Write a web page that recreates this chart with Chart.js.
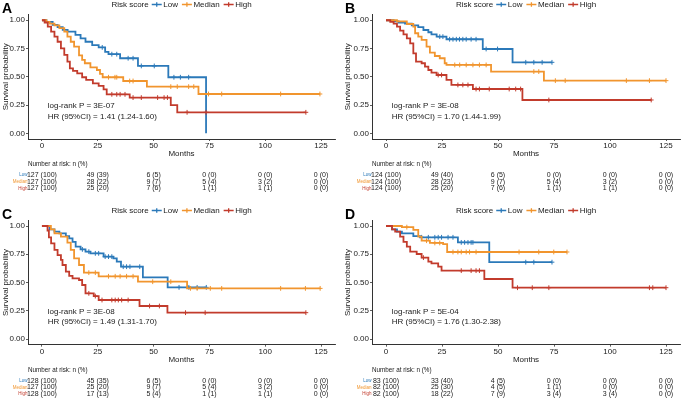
<!DOCTYPE html>
<html><head><meta charset="utf-8">
<script src="https://cdn.jsdelivr.net/npm/chart.js@4.4.1/dist/chart.umd.min.js"></script>
<style>
html,body{margin:0;padding:0;background:#fff;}
#wrap{position:relative;width:685px;height:403px;overflow:hidden;background:#fff;}
canvas{position:absolute;display:block;}
</style></head><body>
<div id="wrap">
<canvas id="cA" width="340" height="200" style="left:0;top:0"></canvas>
<canvas id="cB" width="345" height="200" style="left:340px;top:0"></canvas>
<canvas id="cC" width="340" height="197" style="left:0;top:206px"></canvas>
<canvas id="cD" width="345" height="197" style="left:340px;top:206px"></canvas>
</div>
<script>
// ---------- shared labels ----------
const groupNames = ['Low', 'Median', 'High'];
const legendTitle = 'Risk score';
const xTitle = 'Months';
const yTitle = 'Survival probability';
const tableTitle = 'Number at risk: n (%)';
const xTicks = [0, 25, 50, 75, 100, 125];
const yTicks = [0, 0.25, 0.5, 0.75, 1];

// ---------- Panel A ----------
const A_low_time  = [2, 4.8, 7, 9.3, 11.5, 15, 17.3, 19.5, 22.5, 25.4, 28.3, 29.8, 35, 43, 56.6, 73.5];
const A_low_surv  = [0.985, 0.96, 0.94, 0.915, 0.90, 0.87, 0.84, 0.81, 0.78, 0.76, 0.72, 0.70, 0.664, 0.596, 0.496, 0];
const A_low_cens  = [27, 31.3, 33.5, 38.6, 40.8, 44.5, 50.3, 59.1, 62, 65.7];
const A_med_time  = [2, 3.4, 5.6, 7.8, 10, 11.4, 12.9, 14.4, 16.6, 18, 19.2, 21.7, 24.6, 26, 27.2, 36.4, 47, 70.1];
const A_med_surv  = [0.985, 0.97, 0.955, 0.93, 0.90, 0.855, 0.81, 0.767, 0.69, 0.65, 0.62, 0.584, 0.56, 0.525, 0.496, 0.463, 0.413, 0.348];
const A_med_cens  = [29.8, 32.7, 33.5, 39.3, 40.8, 57.7, 60.6, 65.7, 68, 74.6, 80.5, 106.9, 124.5];
const A_high_time = [1.2, 2.6, 4.1, 5.6, 7, 8.5, 10, 11.4, 12.5, 13.9, 15.8, 18, 19.8, 22.8, 25.4, 27.6, 29, 39.3, 57.7, 60.6];
const A_high_surv = [0.98, 0.944, 0.90, 0.855, 0.81, 0.752, 0.693, 0.634, 0.575, 0.552, 0.53, 0.496, 0.472, 0.442, 0.419, 0.389, 0.345, 0.316, 0.25, 0.186];
const A_high_cens = [31.3, 33.5, 35, 37.2, 40.8, 44.5, 51.8, 54.7, 56.2, 65, 73.5, 118.2];
const A_risk_low  = [127, 49, 6, 0, 0, 0];  const A_pct_low  = [100, 39, 5, 0, 0, 0];
const A_risk_med  = [127, 28, 9, 5, 3, 0];  const A_pct_med  = [100, 22, 7, 4, 2, 0];
const A_risk_high = [127, 25, 7, 1, 1, 0];  const A_pct_high = [100, 20, 6, 1, 1, 0];
const A_pval = 'log-rank P = 3E-07';
const A_hr   = 'HR (95%CI) = 1.41 (1.24-1.60)';

// ---------- Panel B ----------
const B_low_time  = [3.4, 5.6, 8.5, 11.5, 14.4, 16.7, 18.9, 20.3, 22.6, 27, 43.2, 56.5];
const B_low_surv  = [0.99, 0.98, 0.97, 0.955, 0.94, 0.914, 0.894, 0.876, 0.855, 0.832, 0.746, 0.628];
const B_low_cens  = [24, 25.4, 28.4, 29.9, 31.4, 32.8, 34.3, 35.8, 38, 40.2, 44.7, 49.8, 62.4, 66, 69.7, 74.1];
const B_med_time  = [4.9, 9.3, 12.2, 13, 14.4, 15.9, 18.1, 19.6, 21.8, 24, 26.2, 27, 46.9, 70.5];
const B_med_surv  = [0.99, 0.967, 0.944, 0.885, 0.855, 0.826, 0.767, 0.714, 0.684, 0.664, 0.62, 0.605, 0.546, 0.466];
const B_med_cens  = [30.7, 32.9, 35.8, 38.8, 41.7, 44.7, 66, 68.2, 75.6, 80, 107.3, 117.6, 125];
const B_high_time = [1.9, 3.4, 4.9, 6.3, 7.8, 9.3, 10.8, 12.2, 13.4, 15.9, 17.4, 18.9, 20.3, 22.6, 27, 29.2, 38.8, 60.9];
const B_high_surv = [0.985, 0.97, 0.944, 0.908, 0.876, 0.84, 0.796, 0.708, 0.634, 0.62, 0.59, 0.56, 0.537, 0.516, 0.472, 0.428, 0.392, 0.295];
const B_high_cens = [23.3, 24.8, 32.1, 34.3, 36.6, 40.2, 41.7, 46.1, 55, 57.9, 60.1, 72.7, 118.4];
const B_risk_low  = [124, 49, 6, 0, 0, 0];  const B_pct_low  = [100, 40, 5, 0, 0, 0];
const B_risk_med  = [124, 28, 9, 5, 3, 0];  const B_pct_med  = [100, 23, 7, 4, 2, 0];
const B_risk_high = [124, 25, 7, 1, 1, 0];  const B_pct_high = [100, 20, 6, 1, 1, 0];
const B_pval = 'log-rank P = 3E-08';
const B_hr   = 'HR (95%CI) = 1.70 (1.44-1.99)';

// ---------- Panel C ----------
const C_low_time  = [3.4, 5.6, 7.8, 10.7, 12.2, 13.7, 15.1, 17.3, 19.5, 21.7, 27.6, 32, 33.5, 35.4, 45.2, 56.3];
const C_low_surv  = [0.97, 0.95, 0.935, 0.91, 0.89, 0.86, 0.817, 0.793, 0.773, 0.758, 0.729, 0.714, 0.684, 0.64, 0.546, 0.457];
const C_low_cens  = [18.1, 21, 23.9, 25.4, 28.3, 29.8, 31.3, 36.4, 37.9, 39.4, 43.8, 61.4, 65.8, 69.5, 73.6];
const C_med_time  = [4, 5.6, 8.5, 11.4, 12.9, 14.4, 16.6, 18.8, 25.4, 43, 65];
const C_med_surv  = [0.97, 0.935, 0.906, 0.852, 0.788, 0.714, 0.655, 0.587, 0.555, 0.507, 0.448];
const C_med_cens  = [21, 23.9, 29.8, 32.8, 35, 37.9, 40.8, 49.6, 57.7, 66.5, 69.5, 75.4, 80.5, 106.9, 118, 124.6];
const C_high_time = [2.5, 3.1, 4.1, 5.6, 7, 8.5, 9.2, 10.7, 12.2, 13.7, 16.6, 18, 19.5, 23.2, 25.4, 43.7, 56.2];
const C_high_surv = [0.96, 0.9, 0.846, 0.788, 0.743, 0.70, 0.655, 0.596, 0.558, 0.537, 0.522, 0.478, 0.404, 0.38, 0.345, 0.292, 0.233];
const C_high_cens = [21, 23.9, 26.9, 31.3, 32.8, 34.2, 35.7, 38.6, 48.2, 52.6, 64.3, 73.1, 118.2];
const C_risk_low  = [128, 45, 6, 0, 0, 0];  const C_pct_low  = [100, 35, 5, 0, 0, 0];
const C_risk_med  = [127, 25, 9, 5, 3, 0];  const C_pct_med  = [100, 20, 7, 4, 2, 0];
const C_risk_high = [128, 17, 5, 1, 1, 0];  const C_pct_high = [100, 13, 4, 1, 1, 0];
const C_pval = 'log-rank P = 3E-08';
const C_hr   = 'HR (95%CI) = 1.49 (1.31-1.70)';

// ---------- Panel D ----------
const D_low_time  = [2.7, 4.9, 7.1, 12.2, 15.2, 32.1, 46.1];
const D_low_surv  = [0.97, 0.95, 0.935, 0.91, 0.9, 0.855, 0.68];
const D_low_cens  = [15.9, 18.9, 21.8, 23.3, 24.8, 27.7, 29.9, 33.6, 35.1, 36.6, 38, 38.8, 62.4, 66, 74.1];
const D_med_time  = [7.1, 12.2, 14.4, 15.9, 19.6, 25.5, 27.3];
const D_med_surv  = [0.99, 0.965, 0.906, 0.87, 0.85, 0.84, 0.77];
const D_med_cens  = [9.3, 18.1, 21.8, 24, 29.9, 32.1, 33.6, 35.8, 37.3, 40.2, 59.4, 68.2, 74.9, 80.8];
const D_high_time = [2.7, 4.1, 6.3, 7.8, 9.3, 10.8, 13.7, 15.9, 18.9, 20.3, 23.3, 24.8, 43.9, 56.5];
const D_high_surv = [0.97, 0.95, 0.906, 0.86, 0.817, 0.773, 0.752, 0.72, 0.684, 0.67, 0.64, 0.605, 0.531, 0.454];
const D_high_cens = [16.7, 33.6, 38, 40.2, 41.7, 58.7, 65.3, 72.7, 117.6, 119.1, 125];
const D_risk_low  = [83, 33, 4, 0, 0, 0];   const D_pct_low  = [100, 40, 5, 0, 0, 0];
const D_risk_med  = [82, 25, 4, 1, 0, 0];   const D_pct_med  = [100, 30, 5, 1, 0, 0];
const D_risk_high = [82, 18, 7, 3, 3, 0];   const D_pct_high = [100, 22, 9, 4, 4, 0];
const D_pval = 'log-rank P = 5E-04';
const D_hr   = 'HR (95%CI) = 1.76 (1.30-2.38)';

// ---------- styling ----------
const FONT = "'Liberation Sans', Arial, Helvetica, sans-serif";
const COLORS = ['#2b79b9', '#f1952e', '#c23b2c'];
const TXT = '#1a1a1a';
const AXIS = '#333333';

function survAt(times, survs, t) {
  let s = 1;
  for (let i = 0; i < times.length; i++) { if (times[i] <= t) s = survs[i]; }
  return s;
}
function buildLine(times, survs, cens) {
  const pts = [{x: 0, y: 1}];
  for (let i = 0; i < times.length; i++) pts.push({x: times[i], y: survs[i]});
  const lastT = times[times.length - 1];
  const maxC = cens.length ? Math.max(...cens) : lastT;
  if (maxC > lastT) pts.push({x: maxC, y: survs[survs.length - 1]});
  return pts;
}
function buildCens(times, survs, cens) {
  return cens.map(t => ({x: t, y: survAt(times, survs, t)}));
}

const decoPlugin = {
  id: 'deco',
  afterDraw(chart, args, opts) {
    const p = opts.panel; if (!p) return;
    const ctx = chart.ctx, ca = chart.chartArea, xs = chart.scales.x, ys = chart.scales.y;
    ctx.save();
    // panel letter
    ctx.fillStyle = '#000'; ctx.font = 'bold 14px ' + FONT;
    ctx.textAlign = 'left'; ctx.textBaseline = 'alphabetic';
    ctx.fillText(p.letter, p.letterX, 12.6);
    // legend
    ctx.font = '8px ' + FONT; ctx.textBaseline = 'middle';
    const symW = 10, gapSym = 1.5, gapItem = 4, gapTitle = 3;
    let total = ctx.measureText(legendTitle).width + gapTitle;
    groupNames.forEach(g => { total += symW + gapSym + ctx.measureText(g).width + gapItem; });
    total -= gapItem;
    let x = (ca.left + ca.right) / 2 - total / 2; const ly = 4.5;
    ctx.fillStyle = TXT; ctx.fillText(legendTitle, x, ly);
    x += ctx.measureText(legendTitle).width + gapTitle;
    groupNames.forEach((g, i) => {
      ctx.strokeStyle = COLORS[i]; ctx.lineWidth = 1.3;
      ctx.beginPath();
      ctx.moveTo(x, ly); ctx.lineTo(x + symW, ly);
      ctx.moveTo(x + symW / 2, ly - 2.3); ctx.lineTo(x + symW / 2, ly + 2.3);
      ctx.stroke();
      x += symW + gapSym;
      ctx.fillStyle = TXT; ctx.fillText(g, x, ly);
      x += ctx.measureText(g).width + gapItem;
    });
    // annotations
    ctx.textAlign = 'left'; ctx.fillStyle = TXT; ctx.font = '8px ' + FONT;
    ctx.fillText(p.pval, xs.getPixelForValue(2.6), ys.getPixelForValue(0.245));
    ctx.fillText(p.hr, xs.getPixelForValue(2.6), ys.getPixelForValue(0.148));
    // x title
    ctx.textAlign = 'center';
    ctx.fillText(xTitle, (ca.left + ca.right) / 2, ca.bottom + 15);
    // risk table
    ctx.textAlign = 'left'; ctx.font = '6.3px ' + FONT;
    ctx.fillText(tableTitle, ca.left, ca.bottom + 25.5);
    p.rows.forEach((row, r) => {
      const yy = ca.bottom + 36 + r * 6.7;
      ctx.font = '4.5px ' + FONT; ctx.textAlign = 'right'; ctx.fillStyle = COLORS[r];
      ctx.fillText(groupNames[r], ca.left - 0.5, yy);
      ctx.font = '7px ' + FONT; ctx.textAlign = 'center'; ctx.fillStyle = TXT;
      row.n.forEach((n, k) => {
        ctx.fillText(n + ' (' + row.pct[k] + ')', xs.getPixelForValue(xTicks[k]), yy);
      });
    });
    ctx.restore();
  }
};

function makePanel(id, panel, lay) {
  const datasets = [];
  panel.curves.forEach((c, i) => {
    datasets.push({
      data: buildLine(c.time, c.surv, c.cens), stepped: 'before',
      borderColor: COLORS[i], borderWidth: 1.8, pointRadius: 0, fill: false, tension: 0, order: 10 - i
    });
    datasets.push({
      data: buildCens(c.time, c.surv, c.cens), showLine: false,
      pointStyle: 'cross', pointRadius: 2.4, pointBorderWidth: 1, borderColor: COLORS[i], order: 10 - i
    });
  });
  new Chart(document.getElementById(id), {
    type: 'line',
    data: {datasets},
    options: {
      responsive: false, animation: false, devicePixelRatio: 1,
      layout: {padding: {top: lay.padTop, right: lay.padRight, left: 0, bottom: 0}},
      plugins: {legend: {display: false}, tooltip: {enabled: false}, deco: {panel}},
      scales: {
        x: {
          type: 'linear', min: -6.25, max: 131.25,
          afterBuildTicks: s => { s.ticks = xTicks.map(v => ({value: v})); },
          ticks: {font: {family: FONT, size: 8}, color: TXT, padding: 0, maxRotation: 0, autoSkip: false, callback: v => String(v)},
          grid: {display: true, drawOnChartArea: false, drawTicks: true, tickLength: 2, color: AXIS, lineWidth: 0.8},
          border: {display: true, color: AXIS, width: 1},
          afterFit: s => { s.height = lay.xH; }
        },
        y: {
          type: 'linear', min: -0.05, max: 1.05,
          afterBuildTicks: s => { s.ticks = yTicks.map(v => ({value: v})); },
          ticks: {font: {family: FONT, size: 8}, color: TXT, padding: 1, callback: v => Number(v).toFixed(2)},
          grid: {display: true, drawOnChartArea: false, drawTicks: true, tickLength: 2, color: AXIS, lineWidth: 0.8},
          border: {display: true, color: AXIS, width: 1},
          title: {display: true, text: yTitle, color: TXT, font: {family: FONT, size: 8}, padding: {top: lay.titlePad, bottom: 0}},
          afterFit: s => { s.width = lay.yW; }
        }
      }
    },
    plugins: [decoPlugin]
  });
}

makePanel('cA', {
  letter: 'A', letterX: 2, pval: A_pval, hr: A_hr,
  curves: [
    {time: A_low_time, surv: A_low_surv, cens: A_low_cens},
    {time: A_med_time, surv: A_med_surv, cens: A_med_cens},
    {time: A_high_time, surv: A_high_surv, cens: A_high_cens}],
  rows: [{n: A_risk_low, pct: A_pct_low}, {n: A_risk_med, pct: A_pct_med}, {n: A_risk_high, pct: A_pct_high}]
}, {padTop: 14.6, padRight: 0, yW: 28, xH: 61, titlePad: 0.8});

makePanel('cB', {
  letter: 'B', letterX: 5, pval: B_pval, hr: B_hr,
  curves: [
    {time: B_low_time, surv: B_low_surv, cens: B_low_cens},
    {time: B_med_time, surv: B_med_surv, cens: B_med_cens},
    {time: B_high_time, surv: B_high_surv, cens: B_high_cens}],
  rows: [{n: B_risk_low, pct: B_pct_low}, {n: B_risk_med, pct: B_pct_med}, {n: B_risk_high, pct: B_pct_high}]
}, {padTop: 14.6, padRight: 3, yW: 32, xH: 61, titlePad: 3.2});

makePanel('cC', {
  letter: 'C', letterX: 2, pval: C_pval, hr: C_hr,
  curves: [
    {time: C_low_time, surv: C_low_surv, cens: C_low_cens},
    {time: C_med_time, surv: C_med_surv, cens: C_med_cens},
    {time: C_high_time, surv: C_high_surv, cens: C_high_cens}],
  rows: [{n: C_risk_low, pct: C_pct_low}, {n: C_risk_med, pct: C_pct_med}, {n: C_risk_high, pct: C_pct_high}]
}, {padTop: 14.35, padRight: 0, yW: 28, xH: 58.35, titlePad: 0.8});

makePanel('cD', {
  letter: 'D', letterX: 5, pval: D_pval, hr: D_hr,
  curves: [
    {time: D_low_time, surv: D_low_surv, cens: D_low_cens},
    {time: D_med_time, surv: D_med_surv, cens: D_med_cens},
    {time: D_high_time, surv: D_high_surv, cens: D_high_cens}],
  rows: [{n: D_risk_low, pct: D_pct_low}, {n: D_risk_med, pct: D_pct_med}, {n: D_risk_high, pct: D_pct_high}]
}, {padTop: 14.35, padRight: 3, yW: 32, xH: 58.35, titlePad: 3.2});
</script>
</body></html>
